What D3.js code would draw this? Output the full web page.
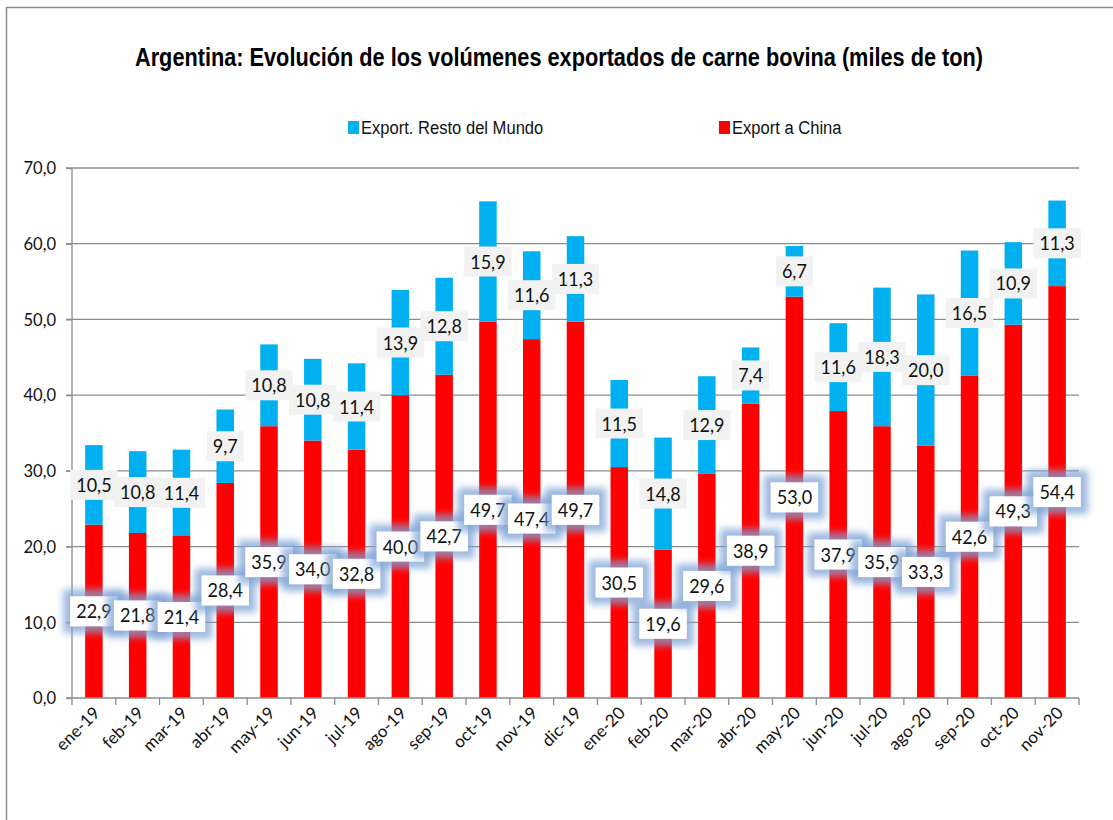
<!DOCTYPE html>
<html lang="es">
<head>
  <meta charset="UTF-8">
  <title>Argentina: exportaciones de carne bovina</title>
  <script src="https://d3js.org/d3.v7.min.js"></script>
  <style>
    body {
      margin: 0;
      background: #fff;
      font-family: Lato, "Liberation Sans", sans-serif;
    }
    .title {
      font-family: "Liberation Sans", Arial, sans-serif;
      font-size: 25px;
      font-weight: bold;
      fill: #000;
      text-anchor: middle;
    }
    .legend-text {
      font-family: "Liberation Sans", Arial, sans-serif;
      font-size: 18px;
      fill: #111;
    }
    .grid-line {
      stroke: #8c8c8c;
      stroke-width: 1.3;
    }
    .axis path,
    .axis line {
      stroke: #8c8c8c;
      stroke-width: 1.3;
    }
    .axis text {
      font-family: Lato, sans-serif;
      font-size: 18px;
      fill: #111;
    }
    .bar-label {
      font-family: Lato, sans-serif;
      font-size: 20px;
      fill: #111;
      text-anchor: middle;
    }
  </style>
</head>
<body>
  <div id="chart"></div>
  <script>
    const months = ["ene-19", "feb-19", "mar-19", "abr-19", "may-19", "jun-19", "jul-19", "ago-19",
      "sep-19", "oct-19", "nov-19", "dic-19", "ene-20", "feb-20", "mar-20", "abr-20", "may-20",
      "jun-20", "jul-20", "ago-20", "sep-20", "oct-20", "nov-20"];

    const chinaValues = [22.9, 21.8, 21.4, 28.4, 35.9, 34.0, 32.8, 40.0, 42.7, 49.7, 47.4, 49.7,
      30.5, 19.6, 29.6, 38.9, 53.0, 37.9, 35.9, 33.3, 42.6, 49.3, 54.4];

    const restValues = [10.5, 10.8, 11.4, 9.7, 10.8, 10.8, 11.4, 13.9, 12.8, 15.9, 11.6, 11.3,
      11.5, 14.8, 12.9, 7.4, 6.7, 11.6, 18.3, 20.0, 16.5, 10.9, 11.3];

    const yTicks = [0, 10, 20, 30, 40, 50, 60, 70];

    const seriesNames = ["Export a China", "Export. Resto del Mundo"];
    const colors = { china: "#ff0000", rest: "#00b0f0" };

    const svgWidth = 1113;
    const svgHeight = 820;
    const margin = { top: 168, right: 34, bottom: 122, left: 72 };
    const width = svgWidth - margin.left - margin.right;
    const height = svgHeight - margin.top - margin.bottom;

    const fmt = v => d3.format(".1f")(v).replace(".", ",");

    // squeeze text horizontally to mimic the narrow font of the original
    function squeeze(sel, k) {
      sel.each(function () {
        const w = this.getComputedTextLength();
        d3.select(this).attr("textLength", w * k).attr("lengthAdjust", "spacingAndGlyphs");
      });
    }

    const rows = months.map((m, i) => ({ month: m, china: chinaValues[i], rest: restValues[i] }));
    const stacked = d3.stack().keys(["china", "rest"])(rows);

    const svg = d3.select("#chart").append("svg")
      .attr("width", svgWidth)
      .attr("height", svgHeight);

    // glow behind the China labels
    const defs = svg.append("defs");
    const glow = defs.append("filter")
      .attr("id", "glow")
      .attr("x", "-100%").attr("y", "-150%")
      .attr("width", "300%").attr("height", "400%");
    glow.append("feMorphology")
      .attr("in", "SourceAlpha").attr("operator", "dilate").attr("radius", 7).attr("result", "fat");
    glow.append("feGaussianBlur")
      .attr("in", "fat").attr("stdDeviation", 3.5).attr("result", "blur");
    glow.append("feFlood")
      .attr("flood-color", "#7f a3d6".replace(" ", "")).attr("flood-opacity", 0.75);
    glow.append("feComposite")
      .attr("in2", "blur").attr("operator", "in").attr("result", "halo");
    const merge = glow.append("feMerge");
    merge.append("feMergeNode").attr("in", "halo");
    merge.append("feMergeNode").attr("in", "SourceGraphic");

    // chart frame
    svg.append("path")
      .attr("d", `M6.5,${svgHeight + 5} V7.5 H${svgWidth + 5}`)
      .attr("fill", "none")
      .attr("stroke", "#8c8c8c")
      .attr("stroke-width", 1.5);

    svg.append("text")
      .attr("class", "title")
      .attr("x", 559)
      .attr("y", 66)
      .attr("textLength", 848)
      .attr("lengthAdjust", "spacingAndGlyphs")
      .text("Argentina: Evolución de los volúmenes exportados de carne bovina (miles de ton)");

    // legend
    const legendItems = [
      { name: seriesNames[1], color: colors.rest, x: 348 },
      { name: seriesNames[0], color: colors.china, x: 719 }
    ];
    const legend = svg.append("g").selectAll("g")
      .data(legendItems)
      .enter().append("g")
      .attr("transform", d => `translate(${d.x},127)`);
    legend.append("rect")
      .attr("x", 0).attr("y", -6)
      .attr("width", 11).attr("height", 13)
      .attr("fill", d => d.color);
    legend.append("text")
      .attr("class", "legend-text")
      .attr("x", 13).attr("y", 7)
      .text(d => d.name)
      .call(squeeze, 0.92);

    const g = svg.append("g")
      .attr("transform", `translate(${margin.left},${margin.top})`);

    const xScale = d3.scaleBand()
      .domain(months)
      .range([0, width])
      .paddingInner(0.6)
      .paddingOuter(0.3);

    const yScale = d3.scaleLinear()
      .domain([0, 70])
      .range([height, 0]);

    // gridlines
    g.append("g")
      .selectAll("line")
      .data(yTicks.filter(t => t > 0))
      .enter().append("line")
      .attr("class", "grid-line")
      .attr("x1", -6).attr("x2", width)
      .attr("y1", d => yScale(d)).attr("y2", d => yScale(d));

    // bars
    g.append("g").selectAll("g")
      .data(stacked)
      .enter().append("g")
      .attr("fill", d => colors[d.key])
      .selectAll("rect")
      .data(d => d)
      .enter().append("rect")
      .attr("x", d => xScale(d.data.month))
      .attr("y", d => yScale(d[1]))
      .attr("width", xScale.bandwidth())
      .attr("height", d => yScale(d[0]) - yScale(d[1]));

    // y axis
    g.append("g")
      .attr("class", "axis")
      .call(d3.axisLeft(yScale).tickValues(yTicks).tickSize(6).tickPadding(10).tickFormat(fmt))
      .call(a => a.select(".domain").attr("d", `M0,${height}V0`))
      .call(a => a.selectAll("text").call(squeeze, 0.92));

    // x axis
    const band = width / months.length;
    const xAxis = g.append("g")
      .attr("class", "axis")
      .attr("transform", `translate(0,${height})`);
    xAxis.append("line")
      .attr("x1", -6).attr("x2", width);
    xAxis.selectAll(".sep")
      .data(d3.range(months.length + 1))
      .enter().append("line")
      .attr("x1", i => i * band).attr("x2", i => i * band)
      .attr("y1", 0).attr("y2", 7);
    xAxis.selectAll("text")
      .data(months)
      .enter().append("text")
      .attr("text-anchor", "end")
      .style("font-size", "17px")
      .attr("transform", d => `translate(${xScale(d) + xScale.bandwidth() / 2 + 7},${16}) rotate(-45)`)
      .text(d => d);

    // labels
    function addLabels(layerIndex, boxFill, useGlow) {
      const layer = stacked[layerIndex];
      const lg = g.append("g").selectAll("g")
        .data(layer)
        .enter().append("g")
        .attr("transform", d => `translate(${xScale(d.data.month) + xScale.bandwidth() / 2},${yScale((d[0] + d[1]) / 2)})`);
      const txt = lg.append("text")
        .attr("class", "bar-label")
        .attr("y", 7)
        .text(d => fmt(d[1] - d[0]))
        .call(squeeze, 0.9);
      txt.each(function () {
        const w = +d3.select(this).attr("textLength");
        d3.select(this.parentNode).insert("rect", "text")
          .attr("x", -w / 2 - 6).attr("y", -15)
          .attr("width", w + 12).attr("height", 30)
          .attr("fill", boxFill)
          .attr("filter", useGlow ? "url(#glow)" : null);
      });
    }
    addLabels(1, "#f2f2f2", false);
    addLabels(0, "#ffffff", true);
  </script>
</body>
</html>
